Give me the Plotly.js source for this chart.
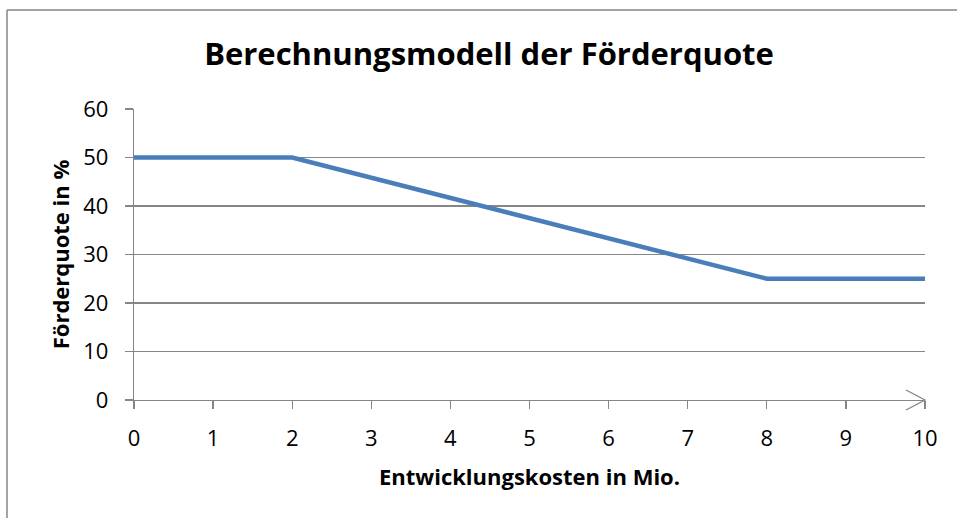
<!DOCTYPE html>
<html>
<head>
<meta charset="utf-8">
<script src="https://cdn.plot.ly/plotly-3.0.1.min.js"></script>
<style>html,body{margin:0;padding:0;background:#fff;}#chart{width:957px;height:518px;}</style>
</head>
<body>
<div id="chart"></div>
<script>
const chartTitle = "Berechnungsmodell der Förderquote";
const xTitle = "Entwicklungskosten in Mio.";
const yTitle = "Förderquote in %";
const costs = [0, 2, 8, 10];
const quota = [50, 50, 25, 25];
const xTicks = [0, 1, 2, 3, 4, 5, 6, 7, 8, 9, 10];
const yTicks = [0, 10, 20, 30, 40, 50, 60];

const W = 957, H = 518;
const M = {l: 134, r: 32, t: 109, b: 118};
const pw = W - M.l - M.r, ph = H - M.t - M.b;
const px2x = p => (p - M.l) / pw;
const px2y = p => (H - M.b - p) / ph;
const FONT = "Open Sans, Liberation Sans, sans-serif";
const GRAY = "#868686";

const trace = {
  x: costs, y: quota, type: "scatter", mode: "lines",
  line: {color: "#4A7EBB", width: 4.5}, hoverinfo: "x+y", showlegend: false
};

const layout = {
  width: W, height: H,
  margin: M,
  paper_bgcolor: "#fff", plot_bgcolor: "#fff",
  font: {family: FONT, color: "#000", size: 22},
  title: {text: "<b>" + chartTitle + "</b>", x: 0.511, xanchor: "center", y: 1 - 54 / H, yanchor: "middle",
          font: {family: FONT, size: 31, color: "#000"}},
  xaxis: {
    range: [0, 10], tickvals: xTicks, ticktext: xTicks.map(String),
    showgrid: false, zeroline: false, showline: true, linecolor: GRAY, linewidth: 1.3,
    ticks: "outside", ticklen: 8, tickcolor: GRAY, tickwidth: 1.3, ticklabelstandoff: 10,
    tickfont: {size: 22, family: FONT},
    title: {text: "<b>" + xTitle + "</b>", font: {size: 22, family: FONT}, standoff: 19}
  },
  yaxis: {
    range: [0, 60], tickvals: yTicks, ticktext: yTicks.map(String),
    showgrid: true, gridcolor: GRAY, gridwidth: 1.3, zeroline: false,
    showline: true, linecolor: GRAY, linewidth: 1.3,
    ticks: "outside", ticklen: 8, tickcolor: GRAY, tickwidth: 1.3, ticklabelstandoff: 12,
    tickfont: {size: 22, family: FONT},
    title: {text: "<b>" + yTitle + "</b>", font: {size: 22, family: FONT}, standoff: 7}
  },
  shapes: [
    {type: "line", xref: "paper", yref: "paper", x0: px2x(7), x1: px2x(7), y0: px2y(10), y1: px2y(H + 5),
     line: {color: GRAY, width: 1.5}},
    {type: "line", xref: "paper", yref: "paper", x0: px2x(7), x1: px2x(W + 5), y0: px2y(10), y1: px2y(10),
     line: {color: GRAY, width: 1.5}},
    {type: "path", xref: "paper", yref: "paper", xsizemode: "pixel", ysizemode: "pixel",
     xanchor: 1, yanchor: 0,
     path: "M-19,10 L0,0 L-19,-10", line: {color: GRAY, width: 1.3}}
  ]
};

Plotly.newPlot("chart", [trace], layout, {displayModeBar: false, staticPlot: true});
</script>
</body>
</html>
